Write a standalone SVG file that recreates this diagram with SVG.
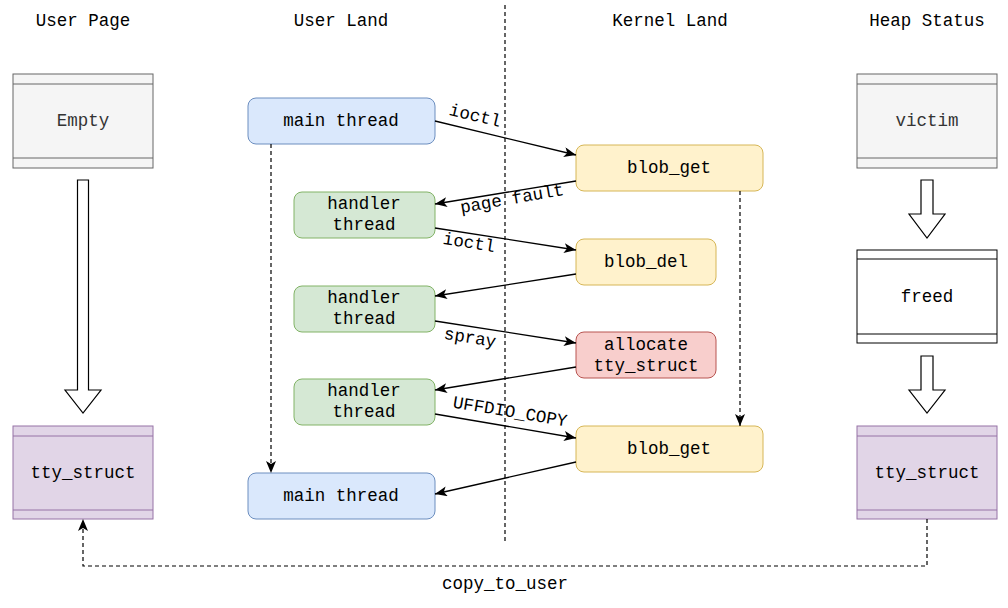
<svg xmlns="http://www.w3.org/2000/svg" width="1008" height="608" viewBox="0 0 1008 608">
<style>
text{font-family:"Liberation Mono","Courier New",monospace;font-size:17.5px;fill:#000;text-anchor:middle;dominant-baseline:central}
.gray{fill:#333}
.box-gray{fill:#f5f5f5;stroke:#666666;stroke-width:1}
.box-purple{fill:#e1d5e7;stroke:#9673a6;stroke-width:1}
.box-white{fill:#ffffff;stroke:#000000;stroke-width:1}
.blue{fill:#dae8fc;stroke:#6c8ebf;stroke-width:1}
.green{fill:#d5e8d4;stroke:#82b366;stroke-width:1}
.yellow{fill:#fff2cc;stroke:#d6b656;stroke-width:1}
.red{fill:#f8cecc;stroke:#b85450;stroke-width:1}
.edge{fill:none;stroke:#000;stroke-width:1.3;marker-end:url(#arr)}
.dash{fill:none;stroke:#000;stroke-width:1.2;stroke-dasharray:4 3}
.block{fill:#fff;stroke:#000;stroke-width:1.2}
</style>
<defs>
<marker id="arr" viewBox="0 0 12 10" refX="12" refY="5" markerWidth="12" markerHeight="10" orient="auto" markerUnits="userSpaceOnUse">
<path d="M0,0 L12,5 L0,10 L3,5 z" fill="#000"/>
</marker>
</defs>
<rect width="1008" height="608" fill="#fff"/>

<g id="headers">
<text x="83" y="21">User Page</text>
<text x="341" y="21">User Land</text>
<text x="670" y="21">Kernel Land</text>
<text x="927" y="21">Heap Status</text>
</g>

<g id="divider"><line x1="505" y1="5" x2="505" y2="544" class="dash"/></g>

<g id="empty">
<rect x="13" y="74" width="140" height="94" class="box-gray"/>
<line x1="13" y1="84" x2="153" y2="84" stroke="#666"/>
<line x1="13" y1="158" x2="153" y2="158" stroke="#666"/>
<text x="83" y="121" class="gray">Empty</text>
</g>
<g id="tty-left">
<rect x="13" y="426" width="140" height="93" class="box-purple"/>
<line x1="13" y1="436" x2="153" y2="436" stroke="#9673a6"/>
<line x1="13" y1="510" x2="153" y2="510" stroke="#9673a6"/>
<text x="83" y="473">tty_struct</text>
</g>
<g id="victim">
<rect x="857" y="74" width="140" height="94" class="box-gray"/>
<line x1="857" y1="84" x2="997" y2="84" stroke="#666"/>
<line x1="857" y1="158" x2="997" y2="158" stroke="#666"/>
<text x="927" y="121" class="gray">victim</text>
</g>
<g id="freed">
<rect x="857" y="250" width="140" height="93" class="box-white"/>
<line x1="857" y1="259" x2="997" y2="259" stroke="#000"/>
<line x1="857" y1="334" x2="997" y2="334" stroke="#000"/>
<text x="927" y="297">freed</text>
</g>
<g id="tty-right">
<rect x="857" y="426" width="140" height="93" class="box-purple"/>
<line x1="857" y1="436" x2="997" y2="436" stroke="#9673a6"/>
<line x1="857" y1="510" x2="997" y2="510" stroke="#9673a6"/>
<text x="927" y="473">tty_struct</text>
</g>

<g id="block-arrows">
<path class="block" d="M77.5,180 L88.5,180 L88.5,390 L101,390 L83,413 L65,390 L77.5,390 Z"/>
<path class="block" d="M921,180 L933,180 L933,214 L945,214 L927,238 L909,214 L921,214 Z"/>
<path class="block" d="M921,356 L933,356 L933,390 L945,390 L927,413 L909,390 L921,390 Z"/>
</g>

<g id="main-top"><rect x="248" y="98" width="187" height="46" rx="8" class="blue"/><text x="341" y="121">main thread</text></g>
<g id="handler1"><rect x="294" y="192" width="141" height="46" rx="8" class="green"/><text x="364" y="204">handler</text><text x="364" y="225">thread</text></g>
<g id="handler2"><rect x="294" y="286" width="141" height="46" rx="8" class="green"/><text x="364" y="298">handler</text><text x="364" y="319">thread</text></g>
<g id="handler3"><rect x="294" y="379" width="141" height="46" rx="8" class="green"/><text x="364" y="391">handler</text><text x="364" y="412">thread</text></g>
<g id="main-bottom"><rect x="248" y="473" width="187" height="46" rx="8" class="blue"/><text x="341" y="496">main thread</text></g>

<g id="blob-get-1"><rect x="576" y="145" width="187" height="46" rx="8" class="yellow"/><text x="669" y="168">blob_get</text></g>
<g id="blob-del"><rect x="576" y="239" width="140" height="46" rx="8" class="yellow"/><text x="646" y="262">blob_del</text></g>
<g id="allocate"><rect x="576" y="332" width="140" height="46" rx="8" class="red"/><text x="646" y="345">allocate</text><text x="646" y="366">tty_struct</text></g>
<g id="blob-get-2"><rect x="576" y="426" width="187" height="46" rx="8" class="yellow"/><text x="669" y="449">blob_get</text></g>

<g id="connectors">
<line class="edge" x1="435" y1="121" x2="576" y2="155"/>
<line class="edge" x1="576" y1="181" x2="435" y2="204"/>
<line class="edge" x1="435" y1="228" x2="576" y2="250"/>
<line class="edge" x1="576" y1="274" x2="435" y2="296"/>
<line class="edge" x1="435" y1="321" x2="576" y2="343"/>
<line class="edge" x1="576" y1="367" x2="435" y2="390"/>
<line class="edge" x1="435" y1="414" x2="576" y2="438"/>
<line class="edge" x1="576" y1="462" x2="435" y2="494"/>
<path class="dash" d="M271,144 L271,473" marker-end="url(#arr)"/>
<path class="dash" d="M740,191 L740,426" marker-end="url(#arr)"/>
<path class="dash" d="M927,519 L927,566 L83,566 L83,519" marker-end="url(#arr)"/>
<text x="475" y="116" transform="rotate(13.5 475 116)">ioctl</text>
<text x="512" y="199" transform="rotate(-10 512 199)">page fault</text>
<text x="469" y="243" transform="rotate(9 469 243)">ioctl</text>
<text x="470" y="338" transform="rotate(9 470 338)">spray</text>
<text x="510" y="412" transform="rotate(9.5 510 412)">UFFDIO_COPY</text>
<text x="505" y="584">copy_to_user</text>
</g>
</svg>
